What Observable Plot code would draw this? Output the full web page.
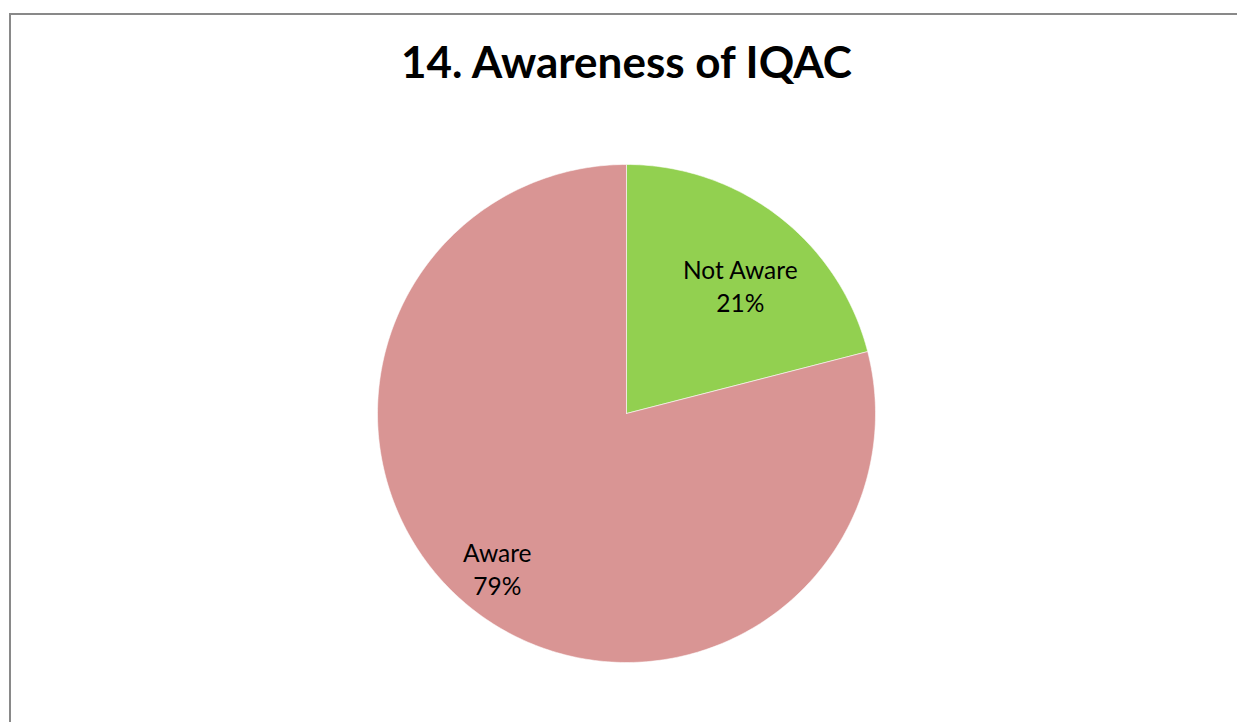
<!DOCTYPE html>
<html>
<head>
<meta charset="utf-8">
<script src="https://cdn.jsdelivr.net/npm/d3@7"></script>
<script src="https://cdn.jsdelivr.net/npm/@observablehq/plot@0.6"></script>
<style>
  html, body { margin: 0; padding: 0; background: #fff; overflow: hidden; }
  #frame { position: absolute; left: 9px; top: 13px; width: 1300px; height: 800px;
           border-left: 2px solid #898989; border-top: 2px solid #898989; box-sizing: border-box; }
  #title { position: absolute; left: 0; width: 1253px; top: 35px; text-align: center;
           font-family: Lato, "Liberation Sans", sans-serif; font-weight: bold; font-size: 44px; color: #000; margin: 0; }
  #chart { position: absolute; left: 0; top: 0; }
</style>
</head>
<body>
<div id="frame"></div>
<h1 id="title">14. Awareness of IQAC</h1>
<div id="chart"></div>
<script>
// Data
const categories = ["Not Aware", "Aware"];
const values = [21, 79];
const percentLabels = ["21%", "79%"];
const colors = ["#92D050", "#D99594"];

// Build pie slices (clockwise from 12 o'clock) in unit-circle coordinates
const pie = d3.pie().sort(null).value(d => d.value);
const table = categories.map((c, i) => ({label: c, value: values[i], pct: percentLabels[i]}));
const arcs = pie(table);

const pts = [];
for (const a of arcs) {
  const n = Math.max(4, Math.ceil((a.endAngle - a.startAngle) / (Math.PI / 180)));
  pts.push({label: a.data.label, x: 0, y: 0});
  for (let k = 0; k <= n; k++) {
    const t = a.startAngle + (a.endAngle - a.startAngle) * k / n;
    pts.push({label: a.data.label, x: Math.sin(t), y: Math.cos(t)});
  }
  pts.push({label: a.data.label, x: 0, y: 0});
}

// label anchor at mid-angle, Excel "best fit" radius fractions
const labelFrac = {"Not Aware": 0.68, "Aware": 0.84};
const labels = arcs.map(a => {
  const m = (a.startAngle + a.endAngle) / 2;
  const f = labelFrac[a.data.label];
  return {text: a.data.label + "\n" + a.data.pct, x: f * Math.sin(m), y: f * Math.cos(m), label: a.data.label};
});
const labelDx = {"Not Aware": 10, "Aware": -1};
const labelDy = {"Not Aware": 5, "Aware": -11};

const W = 1237, H = 722;
const cx = 626, cy = 413, R = 249;

const plot = Plot.plot({
  width: W,
  height: H,
  marginLeft: cx - R,
  marginRight: W - (cx + R),
  marginTop: cy - R,
  marginBottom: H - (cy + R),
  x: {domain: [-1, 1], axis: null},
  y: {domain: [-1, 1], axis: null},
  color: {domain: categories, range: colors},
  style: {background: "transparent", overflow: "visible"},
  marks: [
    Plot.line(pts, {x: "x", y: "y", z: "label", fill: "label", stroke: "#ffffff", strokeWidth: 0.8, strokeOpacity: 0.7, curve: "linear"}),
    ...categories.map(c => Plot.text(labels.filter(d => d.label === c), {
      x: "x", y: "y", text: "text",
      dx: labelDx[c], dy: labelDy[c],
      fontSize: 24.5, lineHeight: 1.36,
      fontFamily: "Lato, 'Liberation Sans', sans-serif",
      fill: "#000", textAnchor: "middle", lineAnchor: "middle"
    }))
  ]
});
document.getElementById("chart").appendChild(plot);
</script>
</body>
</html>
